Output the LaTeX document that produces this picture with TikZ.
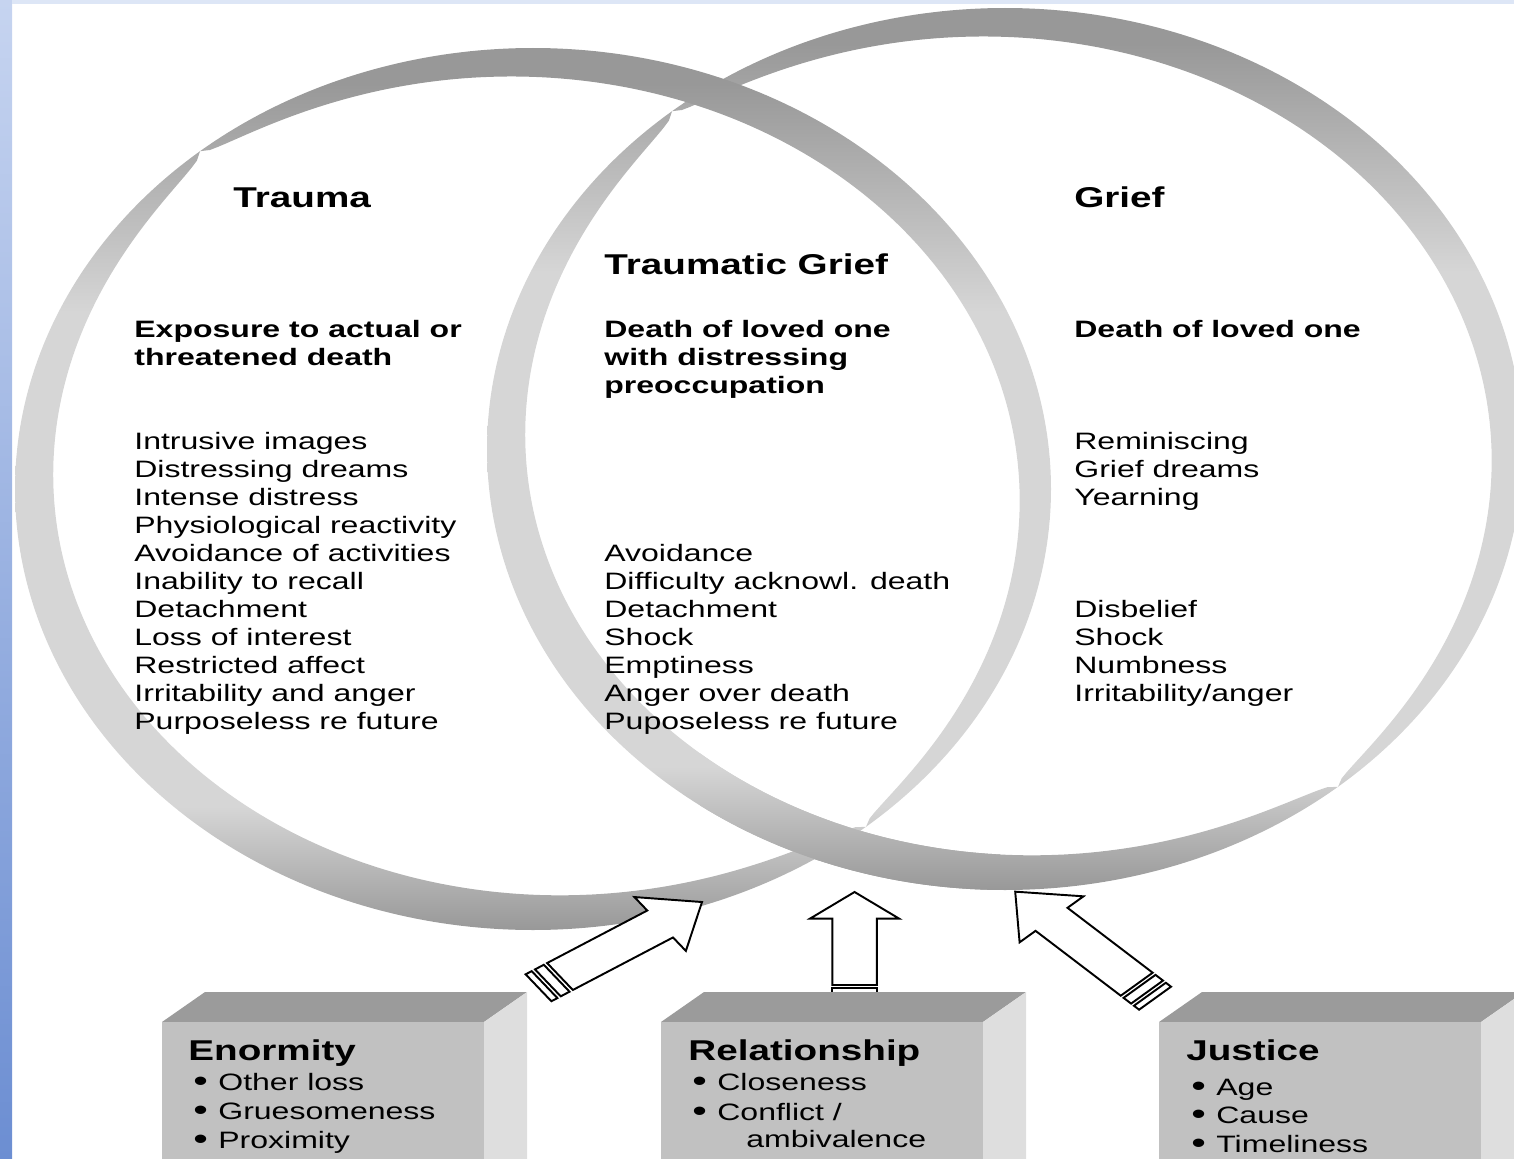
\documentclass[tikz,border=0pt]{standalone}
\usepackage{fontspec}
\setmainfont{Liberation Sans}[FakeStretch=1.35]
\usetikzlibrary{calc}
\definecolor{FrameBlueTop}{RGB}{198,212,240}
\definecolor{FrameBlueBot}{RGB}{108,142,210}
\definecolor{FrameTop}{RGB}{221,230,246}
\definecolor{RingDark}{RGB}{152,152,152}
\definecolor{RingLight}{RGB}{214,214,214}
\definecolor{BoxTop}{RGB}{155,155,155}
\definecolor{BoxFront}{RGB}{193,193,193}
\definecolor{BoxSide}{RGB}{222,222,222}
\pgfdeclareverticalshading{ringfade}{100bp}{color(0bp)=(RingDark); color(25bp)=(RingDark);
  color(32bp)=(RingLight); color(60bp)=(RingLight); color(73bp)=(RingDark); color(100bp)=(RingDark)}

% twisted ring: centre x, centre y
\newcommand{\ribbon}[2]{%
  \path[ringshade] plot[domain=0:360] ({#1+518*cos(\x)},{#2-441*sin(\x)})
    -- plot[domain=360:0] ({#1+(518-bandw(\x))*cos(\x)},{#2-(441-bandw(\x))*sin(\x)}) -- cycle;}
% 3d box: left x of the front face
\newcommand{\factorbox}[1]{%
  \fill[BoxTop] (#1,1022) -- ++(43,-30) -- ++(322,0) -- ++(-43,30) -- cycle;
  \fill[BoxFront] (#1,1022) rectangle ++(322,150);
  \fill[BoxSide] ({#1+322},1022) -- ++(43,-30) -- ++(0,190) -- ++(-43,0) -- cycle;}
% striped block arrow: tail x (unstretched), tail y, angle, length, head length
\newcommand{\stripedarrow}[5]{%
  \begin{scope}[xscale=1.35, shift={(#1,#2)}, rotate=#3]
    \draw[arrowline] (0,16.5) -- ({#4-#5},16.5) -- ({#4-#5},33) -- (#4,0)
      -- ({#4-#5},-33) -- ({#4-#5},-16.5) -- (0,-16.5) -- cycle;
    \draw[arrowline] (-3,-16.5) rectangle (-11,16.5);
    \draw[arrowline] (-14,-16.5) rectangle (-19.5,16.5);
  \end{scope}}
\newcommand{\blt}{\makebox[0.5cm][l]{\raisebox{-0.8pt}{\scalebox{1.3}{•}}}}

\begin{document}
\begin{tikzpicture}[x=0.02cm, y=-0.02cm,
  every node/.style={inner sep=0pt, anchor=base west},
  body/.style={font=\fontsize{13.5}{16}\selectfont},
  head/.style={font=\fontsize{13.5}{16}\selectfont\bfseries},
  title/.style={font=\fontsize{16.3}{19}\selectfont\bfseries},
  declare function={bandw(\q)=((sin(\q-130)>=0) ? 44 : 36)*sqrt(abs(sin(\q-130)));},
  ringshade/.style={shading=ringfade},
  arrowline/.style={draw=black, fill=white, line width=1.1pt, line join=miter}]
  \useasboundingbox (0,0) rectangle (1514,1159);
  \clip (0,0) rectangle (1514,1159);
  \fill[top color=FrameBlueTop, bottom color=FrameBlueBot] (0,0) rectangle (12,1159);
  \fill[FrameTop] (12,0) rectangle (1514,4);

  % the two rings, linked
  \begin{scope}[samples=361]
    \ribbon{1005}{449}
    \ribbon{533}{489}
    \begin{scope}
      \clip (700,700) rectangle (1000,960);
      \ribbon{1005}{449}
    \end{scope}
  \end{scope}

  \node[title] (trauma) at (233,207) {Trauma};
  \node[title] (tgrief) at (604,274) {Traumatic Grief};
  \node[title] (grief) at (1074,207) {Grief};

  \node[head] (expo1) at (134,337) {Exposure to actual or};
  \node[head] (expo2) at (134,365) {threatened death};
  \node[head] (death1) at (604,337) {Death of loved one};
  \node[head] (death2) at (604,365) {with distressing};
  \node[head] (death3) at (604,393) {preoccupation};
  \node[head] (loved) at (1074,337) {Death of loved one};

  \foreach \txt [count=\i from 0] in {Intrusive images, Distressing dreams, Intense distress,
      Physiological reactivity, Avoidance of activities, Inability to recall, Detachment,
      Loss of interest, Restricted affect, Irritability and anger, Purposeless re future}
    \node[body] (tr\i) at (134,{449+28*\i}) {\txt};
  \foreach \txt [count=\i from 0] in {Avoidance, Difficulty acknowl. death, Detachment,
      Shock, Emptiness, Anger over death, Puposeless re future}
    \node[body] (tg\i) at (604,{561+28*\i}) {\txt};
  \foreach \txt [count=\i from 0] in {Reminiscing, Grief dreams, Yearning}
    \node[body] (gra\i) at (1074,{449+28*\i}) {\txt};
  \foreach \txt [count=\i from 0] in {Disbelief, Shock, Numbness, Irritability/anger}
    \node[body] (grb\i) at (1074,{617+28*\i}) {\txt};

  % arrows from the factors
  \stripedarrow{414.8}{976.5}{35.3}{128.9}{38}
  \stripedarrow{633}{985}{90}{93}{26.6}
  \stripedarrow{842}{984.2}{134.2}{129.1}{38.6}

  % factor boxes
  \factorbox{162}
  \factorbox{661}
  \factorbox{1159}

  \node[title] (enorm) at (188,1060) {Enormity};
  \foreach \txt [count=\i from 0] in {Other loss, Gruesomeness, Proximity}
    \node[body] (en\i) at (193,{1090+29*\i}) {\blt\txt};
  \node[title] (relat) at (688,1060) {Relationship};
  \node[body] (rel0) at (692,1090) {\blt Closeness};
  \node[body] (rel1) at (692,1120) {\blt Conflict /};
  \node[body] (rel2) at (746,1147) {ambivalence};
  \node[title] (justice) at (1186,1060) {Justice};
  \foreach \txt [count=\i from 0] in {Age, Cause, Timeliness}
    \node[body] (ju\i) at (1191,{1095+28.5*\i}) {\blt\txt};
\end{tikzpicture}
\end{document}
